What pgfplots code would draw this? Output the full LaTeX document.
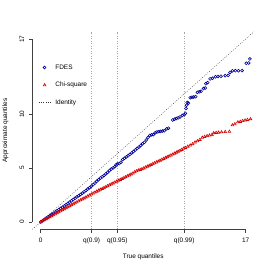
\documentclass[border=0pt]{standalone}
\usepackage{fontspec}
\setmainfont{Liberation Sans}
\usepackage{pgfplots}
\pgfplotsset{compat=1.18}
\definecolor{fdes}{RGB}{0,0,150}
\definecolor{chisq}{RGB}{215,0,0}
\pgfplotsset{
 markleg/.style={legend image code/.code={\draw[##1, only marks, mark repeat=2, mark phase=2] plot coordinates {(0bp,0bp) (6bp,0bp) (12bp,0bp)};}},
 lineleg/.style={legend image code/.code={\draw[##1] (0bp,0bp) -- (12bp,0bp);}},
}
\begin{document}
\fontsize{6.5}{7.8}\selectfont
\begin{tikzpicture}
\begin{axis}[
 scale only axis, width=221.4bp, height=197.6bp,
 xmin=-0.68, xmax=17.68, ymin=-0.68, ymax=17.68,
 axis x line*=bottom, axis y line*=left,
 axis line style={draw=none},
 xtick={0,4.23,6.35,11.9,17}, xticklabels={0,q(0.9),q(0.95),q(0.99),17},
 ytick={0,5,10,17},
 tick align=outside, major tick length=3.5bp,
 tick style={black!75, line width=0.5bp},
 /pgf/number format/assume math mode=true,
 font=\fontsize{6.5}{7.8}\selectfont,
 ticklabel style={font=\fontsize{6.5}{7.8}\selectfont},
 xticklabel style={anchor=north, yshift=-3bp},
 yticklabel style={rotate=90, anchor=south, yshift=2.5bp},
 xlabel={True quantiles}, ylabel={Approximate quantiles},
 xlabel style={at={(axis description cs:0.5,0)}, anchor=center, yshift=-28bp},
 ylabel style={at={([xshift=-27bp]axis description cs:0,0.5)}, anchor=center},
 legend style={at={(axis cs:-0.21,14.77)}, anchor=north west, draw=none, fill=none,
   inner sep=0pt, row sep=9bp, nodes={inner sep=1.5bp}, cells={anchor=west},
   /tikz/every odd column/.append style={column sep=3bp},
   font=\fontsize{6.5}{7.8}\selectfont},
 clip=false,
]
\addplot[only marks, mark=o, mark size=1.45bp, fdes, line width=0.6bp, markleg]
 table {
0.00 0.00
0.15 0.12
0.30 0.24
0.45 0.36
0.60 0.47
0.75 0.59
0.90 0.70
1.05 0.81
1.20 0.93
1.35 1.04
1.50 1.15
1.65 1.26
1.80 1.37
1.95 1.49
2.10 1.60
2.25 1.72
2.40 1.84
2.55 1.97
2.70 2.09
2.85 2.21
3.00 2.33
3.15 2.44
3.30 2.56
3.45 2.68
3.60 2.80
3.75 2.93
3.90 3.06
4.05 3.19
4.20 3.33
4.35 3.47
4.50 3.62
4.65 3.78
4.80 3.93
4.95 4.08
5.10 4.20
5.25 4.33
5.40 4.47
5.55 4.62
5.70 4.78
5.85 4.92
6.00 5.03
6.15 5.14
6.25 5.30
6.35 5.38
6.50 5.42
6.65 5.55
6.80 5.80
6.95 5.92
7.10 6.05
7.25 6.16
7.40 6.28
7.55 6.42
7.70 6.55
7.85 6.70
8.00 6.84
8.15 6.97
8.30 7.12
8.45 7.27
8.60 7.40
8.75 7.62
8.90 7.85
9.05 8.05
9.20 8.10
9.35 8.12
9.50 8.30
9.65 8.37
9.80 8.40
9.95 8.42
10.10 8.45
10.25 8.48
10.45 8.65
10.60 8.72
10.95 9.48
11.10 9.56
11.25 9.62
11.40 9.68
11.55 9.76
11.75 9.90
11.90 9.97
12.00 10.10
12.05 10.55
12.10 10.85
12.15 11.10
12.25 11.05
12.40 11.55
12.55 11.60
12.70 11.62
12.85 11.65
13.00 12.05
13.15 12.10
13.30 12.15
13.50 12.40
13.65 12.45
13.70 12.85
13.85 12.95
14.05 13.30
14.25 13.35
14.50 13.50
14.70 13.52
14.95 13.55
15.30 13.60
15.55 13.62
15.70 13.90
15.90 14.05
16.15 14.06
16.40 14.06
16.70 14.07
17.05 14.75
17.25 14.78
17.35 15.15
};
\addlegendentry{FDES}
\addplot[only marks, mark=triangle, mark size=1.55bp, chisq, line width=0.6bp, markleg]
 table {
0.00 0.00
0.15 0.09
0.30 0.19
0.45 0.28
0.60 0.37
0.75 0.47
0.90 0.56
1.05 0.65
1.20 0.74
1.35 0.84
1.50 0.93
1.65 1.02
1.80 1.12
1.95 1.21
2.10 1.30
2.25 1.40
2.40 1.49
2.55 1.58
2.70 1.67
2.85 1.76
3.00 1.85
3.15 1.94
3.30 2.03
3.45 2.12
3.60 2.21
3.75 2.30
3.90 2.39
4.05 2.48
4.20 2.57
4.35 2.66
4.50 2.75
4.65 2.84
4.80 2.93
4.95 3.01
5.10 3.09
5.25 3.18
5.40 3.26
5.55 3.35
5.70 3.43
5.85 3.51
6.00 3.60
6.15 3.68
6.30 3.77
6.45 3.85
6.60 3.93
6.75 4.02
6.90 4.10
7.05 4.18
7.20 4.27
7.35 4.35
7.50 4.44
7.65 4.52
7.80 4.65
7.95 4.73
8.10 4.80
8.25 4.86
8.40 4.93
8.55 5.00
8.70 5.08
8.85 5.16
9.00 5.24
9.15 5.32
9.30 5.40
9.45 5.48
9.60 5.55
9.75 5.63
9.90 5.72
10.05 5.80
10.20 5.88
10.35 5.96
10.50 6.04
10.65 6.12
10.80 6.20
10.95 6.28
11.10 6.37
11.25 6.46
11.40 6.55
11.55 6.63
11.70 6.72
11.85 6.82
12.00 6.90
12.20 7.02
12.40 7.12
12.60 7.25
12.80 7.40
13.00 7.52
13.20 7.65
13.40 7.85
13.60 7.92
13.80 8.00
14.00 8.05
14.20 8.10
14.35 8.27
14.55 8.30
14.75 8.32
15.00 8.35
15.30 8.38
15.65 8.40
15.90 9.00
16.10 9.10
16.35 9.28
16.55 9.32
16.75 9.40
16.95 9.45
17.15 9.50
17.40 9.57
};
\addlegendentry{Chi-square}
\addplot[black!80, line width=0.5bp, dash pattern=on 0.7bp off 1.6bp, lineleg]
 coordinates {(-0.68,-0.68) (17.68,17.68)};
\addlegendentry{Identity}
\addplot[black!35, line width=0.45bp, dash pattern=on 1bp off 1.5bp, forget plot]
 coordinates {(4.23,-0.68) (4.23,17.68)};
\addplot[black!35, line width=0.45bp, dash pattern=on 1bp off 1.5bp, forget plot]
 coordinates {(6.35,-0.68) (6.35,17.68)};
\addplot[black!35, line width=0.45bp, dash pattern=on 1bp off 1.5bp, forget plot]
 coordinates {(11.9,-0.68) (11.9,17.68)};
\draw[black!75, line width=0.5bp] (axis cs:0,-0.68) -- (axis cs:17,-0.68);
\draw[black!75, line width=0.5bp] (axis cs:-0.68,0) -- (axis cs:-0.68,17);
\path (axis cs:-3.375,-4.46) rectangle (axis cs:19.014,20.63);
\end{axis}
\end{tikzpicture}
\end{document}
